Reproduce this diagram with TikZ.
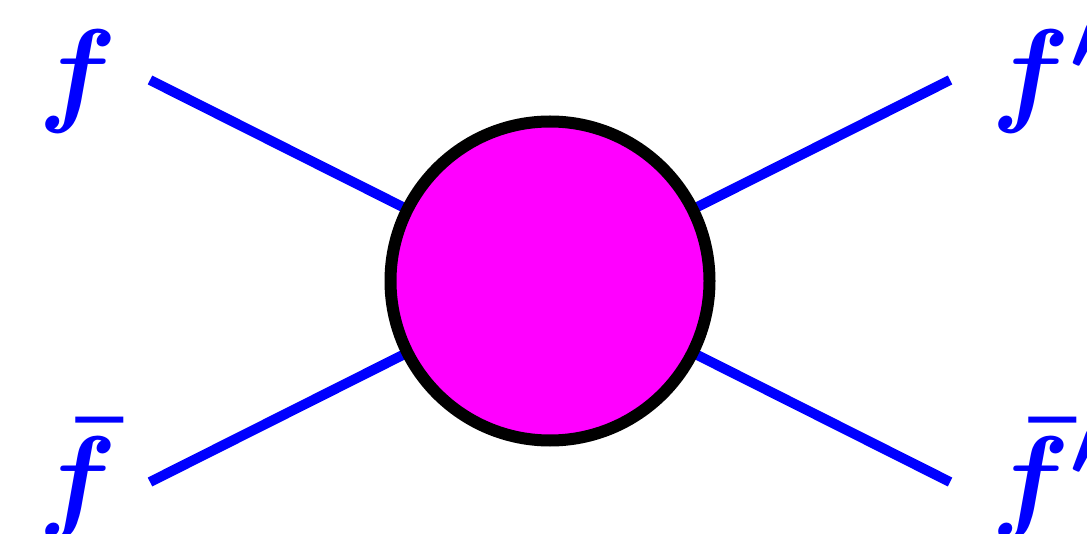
\documentclass[tikz,border=0pt]{standalone}
\usepackage{amsmath}
\usepackage{bm}
\usepackage{graphicx}
\definecolor{mag}{RGB}{255,0,255}
\definecolor{pblue}{RGB}{0,0,255}
\newcommand{\biglbl}[1]{\scalebox{11.6}{$\bm{#1}$}}
\begin{document}
\begin{tikzpicture}[x=1pt,y=-1pt,
  fermion/.style={draw=pblue,line width=10pt},
  blob/.style={circle,draw=black,line width=12pt,fill=mag,minimum size=319pt,inner sep=0pt},
  lbl/.style={text=pblue,inner sep=0pt,anchor=base west,font=\fontsize{10}{12}\selectfont}]
\useasboundingbox (0,0) rectangle (1087,534);
\clip (0,0) rectangle (1087,534);
\coordinate (a) at (150,80);
\coordinate (b) at (150,482);
\coordinate (c) at (950,80);
\coordinate (d) at (950,482);
\coordinate (o) at (550,281);
\draw[fermion] (a) -- (o);
\draw[fermion] (b) -- (o);
\draw[fermion] (c) -- (o);
\draw[fermion] (d) -- (o);
\node[blob] (v) at (o) {};
\node[lbl] (la) at (38,111) {\biglbl{f}};
\node[lbl] (lb) at (38,517) {\biglbl{\bar f}};
\node[lbl] (lc) at (991,111) {\biglbl{f'}};
\node[lbl] (ld) at (991,517) {\biglbl{\bar f'}};
\end{tikzpicture}
\end{document}
